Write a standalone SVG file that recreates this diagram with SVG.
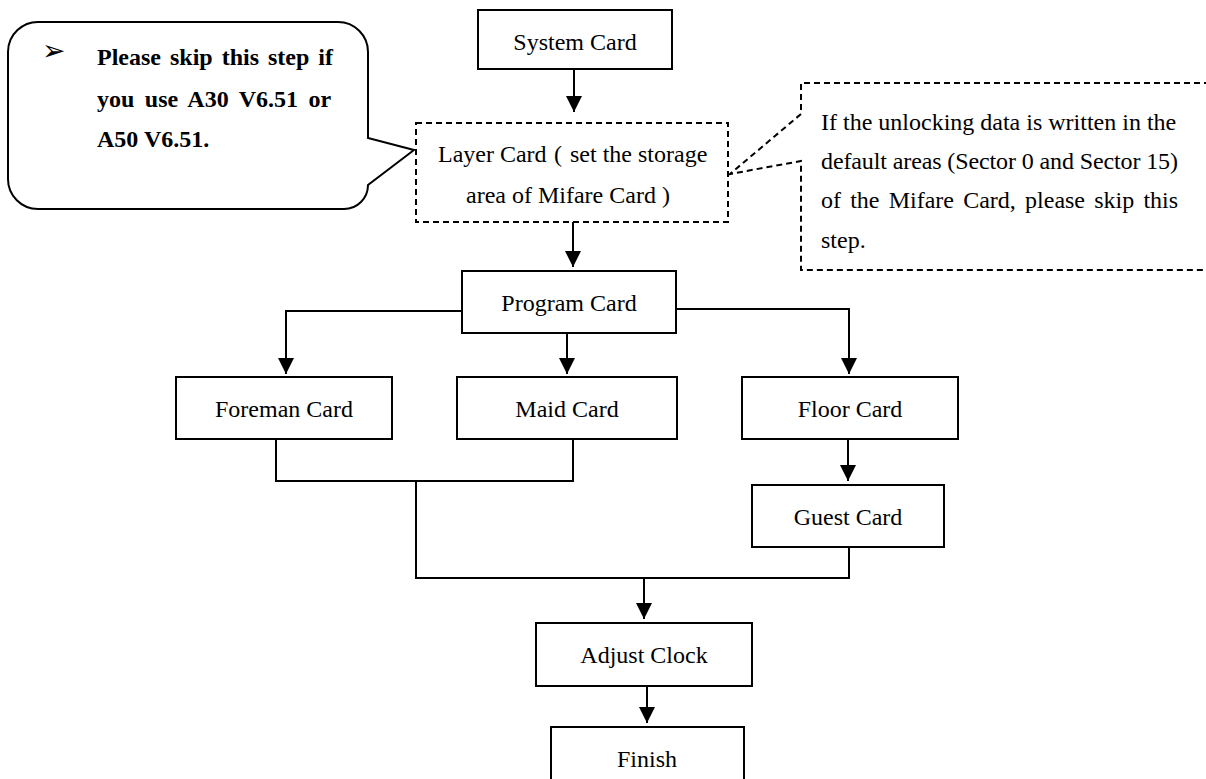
<svg xmlns="http://www.w3.org/2000/svg" width="1206" height="779" viewBox="0 0 1206 779">
  <style>
    .box { fill: #fff; stroke: #000; stroke-width: 2; }
    .dash { fill: none; stroke: #000; stroke-width: 2; stroke-dasharray: 6 4; }
    .lbl { font-family: "Liberation Serif", "Noto Sans CJK SC", serif; font-size: 24px; fill: #000; }
    .mid { text-anchor: middle; }
    .bold { font-weight: bold; }
    .wire { fill: none; stroke: #000; stroke-width: 2; }
  </style>
  <defs>
    <marker id="head" markerUnits="userSpaceOnUse" markerWidth="18" markerHeight="16" refX="16" refY="8" orient="auto">
      <path d="M0,0 L16,8 L0,16 Z" fill="#000"/>
    </marker>
  </defs>
  <rect width="1206" height="779" fill="#fff"/>

  <!-- note bubble on the left -->
  <g id="note-skip">
    <path class="wire" d="M40,22 H338 A30,30 0 0 1 368,52 V138 L414,150 L368,185 A24,24 0 0 1 344,209 H38 A30,30 0 0 1 8,179 V52 A30,30 0 0 1 40,22 Z"/>
    <text x="42" y="60" font-family="DejaVu Sans, sans-serif" font-size="28">➢</text>
    <text class="lbl bold" x="97" y="65" word-spacing="3">Please skip this step if</text>
    <text class="lbl bold" x="97" y="107" word-spacing="4.5">you use A30 V6.51 or</text>
    <text class="lbl bold" x="97" y="147">A50 V6.51.</text>
  </g>

  <!-- note callout on the right -->
  <g id="note-default">
    <path class="dash" d="M1210,83 H801 V114 L730,174 L801,161 V270 H1210"/>
    <text class="lbl" x="821" y="130">If the unlocking data is written in the</text>
    <text class="lbl" x="821" y="169" textLength="357" lengthAdjust="spacing">default areas (Sector 0 and Sector 15)</text>
    <text class="lbl" x="821" y="208" word-spacing="3.2">of the Mifare Card, please skip this</text>
    <text class="lbl" x="821" y="248">step.</text>
  </g>

  <g id="system-card">
    <rect class="box" x="478" y="10" width="194" height="59"/>
    <text class="lbl mid" x="575" y="50">System Card</text>
  </g>

  <g id="layer-card">
    <rect class="dash" x="416" y="123" width="312" height="99"/>
    <text class="lbl" y="162"><tspan x="438">Layer Card</tspan><tspan x="554">(</tspan><tspan x="570">set the storage</tspan></text>
    <text class="lbl" y="203"><tspan x="466">area of Mifare Card</tspan><tspan x="662">)</tspan></text>
  </g>

  <g id="program-card">
    <rect class="box" x="462" y="271" width="214" height="62"/>
    <text class="lbl mid" x="569" y="311">Program Card</text>
  </g>

  <g id="foreman-card">
    <rect class="box" x="176" y="377" width="216" height="62"/>
    <text class="lbl mid" x="284" y="417">Foreman Card</text>
  </g>

  <g id="maid-card">
    <rect class="box" x="457" y="377" width="220" height="62"/>
    <text class="lbl mid" x="567" y="417">Maid Card</text>
  </g>

  <g id="floor-card">
    <rect class="box" x="742" y="377" width="216" height="62"/>
    <text class="lbl mid" x="850" y="417">Floor Card</text>
  </g>

  <g id="guest-card">
    <rect class="box" x="752" y="485" width="192" height="62"/>
    <text class="lbl mid" x="848" y="525">Guest Card</text>
  </g>

  <g id="adjust-clock">
    <rect class="box" x="536" y="623" width="216" height="63"/>
    <text class="lbl mid" x="644" y="663">Adjust Clock</text>
  </g>

  <g id="finish">
    <rect class="box" x="551" y="727" width="193" height="62"/>
    <text class="lbl mid" x="647" y="767">Finish</text>
  </g>

  <g id="connectors">
    <path class="wire" d="M574,69 V112" marker-end="url(#head)"/>
    <path class="wire" d="M573,222 V267" marker-end="url(#head)"/>
    <path class="wire" d="M462,311 H286 V374" marker-end="url(#head)"/>
    <path class="wire" d="M567,333 V374" marker-end="url(#head)"/>
    <path class="wire" d="M676,309 H849 V374" marker-end="url(#head)"/>
    <path class="wire" d="M848,439 V481" marker-end="url(#head)"/>
    <path class="wire" d="M276,439 V481 H573 V439"/>
    <path class="wire" d="M416,481 V578 H849 V547"/>
    <path class="wire" d="M644,578 V619" marker-end="url(#head)"/>
    <path class="wire" d="M647,686 V723" marker-end="url(#head)"/>
  </g>
</svg>
